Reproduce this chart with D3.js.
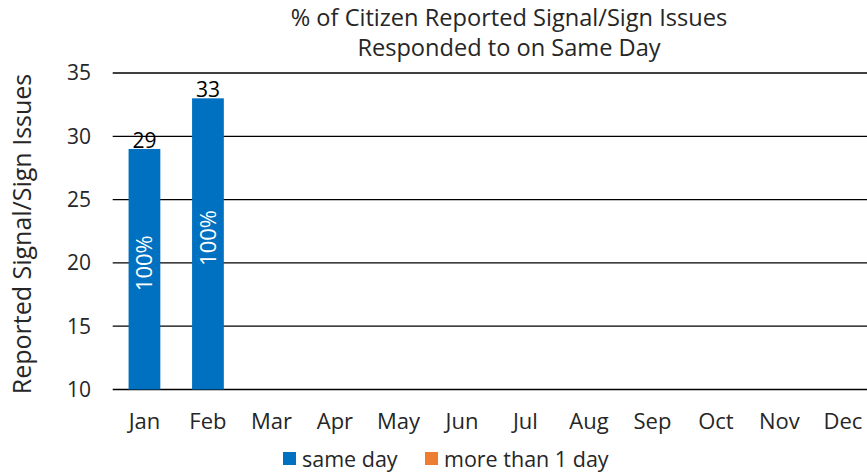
<!DOCTYPE html>
<html><head><meta charset="utf-8">
<script src="https://cdn.jsdelivr.net/npm/d3@7"></script>
<style>body{margin:0;background:#fff}svg{display:block}text{font-family:"Open Sans",sans-serif;fill:#262626}</style>
</head><body>
<svg id="c" width="867" height="473"></svg>
<script>
const months = ["Jan","Feb","Mar","Apr","May","Jun","Jul","Aug","Sep","Oct","Nov","Dec"];
const sameDay = [29,33,null,null,null,null,null,null,null,null,null,null];
const moreThan1 = [0,0,null,null,null,null,null,null,null,null,null,null];
const pctLabels = ["100%","100%","","","","","","","","","",""];
const yTicks = [10,15,20,25,30,35];
const titleLines = ["% of Citizen Reported Signal/Sign Issues","Responded to on Same Day"];
const yTitle = "Reported Signal/Sign Issues";
const legendItems = [{name:"same day",color:"#0070C0"},{name:"more than 1 day",color:"#ED7D31"}];

(function(){
const svg = d3.select("#c");
const pL = 112.7, pR = 874.7, pT = 73, pB = 389.5;
const x = d3.scaleBand().domain(months).range([pL,pR]).paddingInner(0.5).paddingOuter(0.25);
const y = d3.scaleLinear().domain([10,35]).range([pB,pT]);

svg.append("g").selectAll("line").data(yTicks).join("line")
  .attr("x1",pL).attr("x2",pR).attr("y1",d=>y(d)).attr("y2",d=>y(d))
  .attr("stroke","#000").attr("stroke-width",1.3);

svg.append("g").selectAll("text").data(yTicks).join("text")
  .attr("x",91).attr("y",d=>y(d)).attr("dy","0.35em").attr("text-anchor","end")
  .attr("font-size",21).text(d=>d);

svg.append("g").selectAll("text").data(months).join("text")
  .attr("x",d=>x(d)+x.bandwidth()/2).attr("y",421).attr("dy","0.35em").attr("text-anchor","middle")
  .attr("font-size",22).text(d=>d);

const data = months.map((m,i)=>({m,v:sameDay[i],o:moreThan1[i],p:pctLabels[i]})).filter(d=>d.v!=null);
svg.append("g").selectAll("rect").data(data).join("rect")
  .attr("x",d=>x(d.m)).attr("width",x.bandwidth())
  .attr("y",d=>y(d.v)).attr("height",d=>y(10)-y(d.v)).attr("fill","#0070C0");

svg.append("g").selectAll("text").data(data).join("text")
  .attr("x",d=>x(d.m)+x.bandwidth()/2).attr("y",d=>y(d.v)-1).attr("text-anchor","middle")
  .attr("font-size",21).style("fill","#000").text(d=>d.v);

svg.append("g").selectAll("text").data(data).join("text")
  .attr("transform",d=>`translate(${x(d.m)+x.bandwidth()/2},${(y(d.v)+y(10))/2-6}) rotate(-90)`)
  .attr("text-anchor","middle").attr("dy","0.35em").attr("font-size",22)
  .style("fill","#fff").text(d=>d.p);

svg.append("g").selectAll("text").data(titleLines).join("text")
  .attr("x",509).attr("y",(d,i)=>18+i*30).attr("dy","0.35em").attr("text-anchor","middle")
  .attr("font-size",23.6).text(d=>d);

svg.append("text").attr("transform","translate(22,234) rotate(-90)")
  .attr("text-anchor","middle").attr("dy","0.35em").attr("font-size",25).text(yTitle);

const lg = svg.append("g");
const lx = [283,425];
legendItems.forEach((d,i)=>{
  lg.append("rect").attr("x",lx[i]).attr("y",452).attr("width",13).attr("height",13).attr("fill",d.color);
  lg.append("text").attr("x",lx[i]+19).attr("y",459).attr("dy","0.35em").attr("font-size",21.5).text(d.name);
});
})();
</script>
</body></html>
